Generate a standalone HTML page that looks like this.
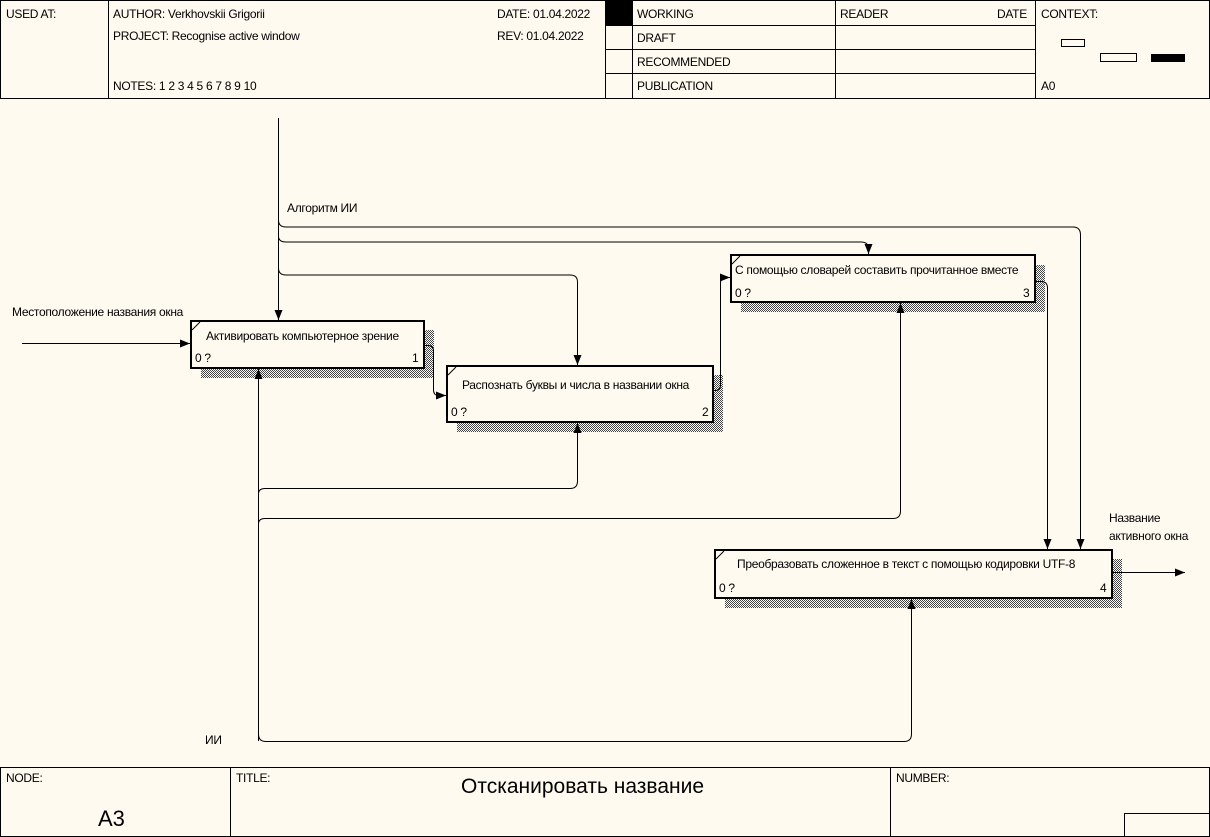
<!DOCTYPE html>
<html><head><meta charset="utf-8"><style>
html,body{margin:0;padding:0;background:#fffaf0;}
svg{display:block;font-family:"Liberation Sans","Noto Sans CJK SC",sans-serif;}
text{font-size:12px;fill:#000;letter-spacing:-0.3px;}
</style></head><body>
<svg width="1210" height="837" viewBox="0 0 1210 837" xmlns="http://www.w3.org/2000/svg">
<defs>
<pattern id="hp" width="2" height="2" patternUnits="userSpaceOnUse"><rect width="2" height="2" fill="#fffaf0"/><rect width="1" height="1" fill="#444"/><rect x="1" y="1" width="1" height="1" fill="#444"/></pattern>
<marker id="ar" markerWidth="10" markerHeight="10" refX="10" refY="5" orient="auto" markerUnits="userSpaceOnUse"><path d="M0,1 L10,5 L0,9 z" fill="#000"/></marker>
</defs>
<rect x="0" y="0" width="1210" height="837" fill="#fffaf0"/>
<g stroke="#000" stroke-width="1" fill="none">
<rect x="0.5" y="0.5" width="1209" height="98"/>
<line x1="108.5" y1="0" x2="108.5" y2="98"/>
<line x1="605.5" y1="0" x2="605.5" y2="98"/>
<line x1="632.5" y1="0" x2="632.5" y2="98"/>
<line x1="835.5" y1="0" x2="835.5" y2="98"/>
<line x1="1035.5" y1="0" x2="1035.5" y2="98"/>
<line x1="605" y1="25.5" x2="1035" y2="25.5"/>
<line x1="605" y1="49.5" x2="1035" y2="49.5"/>
<line x1="605" y1="73.5" x2="1035" y2="73.5"/>
</g>
<rect x="606" y="1" width="26" height="24" fill="#000"/>
<text x="6" y="18">USED AT:</text>
<text x="113" y="18">AUTHOR:  Verkhovskii Grigorii</text>
<text x="113" y="40">PROJECT:  Recognise active window</text>
<text x="113" y="90">NOTES:  1  2  3  4  5  6  7  8  9  10</text>
<text x="497" y="18">DATE:   01.04.2022</text>
<text x="497" y="40">REV:     01.04.2022</text>
<text x="637" y="18">WORKING</text>
<text x="637" y="42">DRAFT</text>
<text x="637" y="66">RECOMMENDED</text>
<text x="637" y="90">PUBLICATION</text>
<text x="840" y="18">READER</text>
<text x="997" y="18">DATE</text>
<text x="1041" y="18">CONTEXT:</text>
<text x="1041" y="90">A0</text>
<rect x="1061.5" y="39.5" width="23" height="7" fill="none" stroke="#000"/>
<rect x="1100.5" y="53.5" width="36" height="8" fill="none" stroke="#000"/>
<rect x="1151" y="54" width="34" height="8" fill="#000"/>
<g stroke="#000" stroke-width="1" fill="none">
<rect x="0.5" y="767.5" width="1209" height="69"/>
<line x1="230.5" y1="767" x2="230.5" y2="837"/>
<line x1="890.5" y1="767" x2="890.5" y2="837"/>
<rect x="1124.5" y="813.5" width="85" height="23"/>
</g>
<text x="6" y="782">NODE:</text>
<text x="236" y="782">TITLE:</text>
<text x="896" y="782">NUMBER:</text>
<text x="98" y="826" style="font-size:22px;letter-spacing:0">A3</text>
<text x="461" y="793" style="font-size:21px;letter-spacing:0">Отсканировать название</text>
<rect x="201" y="330" width="233" height="48" fill="url(#hp)"/>
<rect x="457" y="375" width="266" height="57" fill="url(#hp)"/>
<rect x="741" y="265" width="304" height="47" fill="url(#hp)"/>
<rect x="725" y="559" width="397" height="49" fill="url(#hp)"/>
<g stroke="#000" stroke-width="2" fill="#fffaf0">
<rect x="191" y="321" width="233" height="47"/>
<rect x="447" y="366" width="266" height="56"/>
<rect x="731" y="255" width="304" height="47"/>
<rect x="715" y="550" width="397" height="48"/>
</g>
<g stroke="#000" stroke-width="1">
<line x1="192" y1="330" x2="200" y2="322"/>
<line x1="448" y1="375" x2="456" y2="367"/>
<line x1="732" y1="264" x2="740" y2="256"/>
<line x1="716" y1="559" x2="724" y2="551"/>
</g>
<text x="206" y="340">Активировать компьютерное зрение</text>
<text x="195" y="362">0 ?</text><text x="412" y="362">1</text>
<text x="462" y="389">Распознать буквы и числа в названии окна</text>
<text x="451" y="416">0 ?</text><text x="702" y="416">2</text>
<text x="735" y="274">С помощью словарей составить прочитанное вместе</text>
<text x="735" y="297">0 ?</text><text x="1023" y="297">3</text>
<text x="737" y="568">Преобразовать сложенное в текст с помощью кодировки UTF-8</text>
<text x="719" y="592">0 ?</text><text x="1100" y="592">4</text>
<g stroke="#000" stroke-width="1" fill="none">
<line x1="278.5" y1="118" x2="278.5" y2="320" marker-end="url(#ar)"/>
<path d="M278.5,220 Q278.5,227 286,227 L1073,227 Q1080.5,227 1080.5,235 L1080.5,549" marker-end="url(#ar)"/>
<path d="M278.5,236 Q278.5,242 286,242 L861,242 Q868.5,242 868.5,249 L868.5,254" marker-end="url(#ar)"/>
<path d="M278.5,268 Q278.5,275 286,275 L570,275 Q577.5,275 577.5,282 L577.5,365" marker-end="url(#ar)"/>
<line x1="22" y1="343.5" x2="190" y2="343.5" marker-end="url(#ar)"/>
<path d="M424,345.5 L428,345.5 Q433.5,345.5 433.5,351 L433.5,390 Q433.5,395.5 439,395.5 L446,395.5" marker-end="url(#ar)"/>
<path d="M713,390.5 L715,390.5 Q720.5,390.5 720.5,385 L720.5,283 Q720.5,277.5 726,277.5 L730,277.5" marker-end="url(#ar)"/>
<path d="M1035,281.5 L1041,281.5 Q1047.5,281.5 1047.5,288 L1047.5,549" marker-end="url(#ar)"/>
<line x1="1112" y1="572.5" x2="1185" y2="572.5" marker-end="url(#ar)"/>
<path d="M258.5,741 L258.5,369" marker-end="url(#ar)"/>
<path d="M258.5,494 Q258.5,488.5 265,488.5 L570,488.5 Q577.5,488.5 577.5,481 L577.5,423" marker-end="url(#ar)"/>
<path d="M258.5,524 Q258.5,518.5 265,518.5 L893,518.5 Q900.5,518.5 900.5,511 L900.5,303" marker-end="url(#ar)"/>
<path d="M258.5,734 Q258.5,741.5 266,741.5 L904,741.5 Q911.5,741.5 911.5,734 L911.5,599" marker-end="url(#ar)"/>
</g>
<text x="287" y="212">Алгоритм ИИ</text>
<text x="12" y="316">Местоположение названия окна</text>
<text x="1109" y="522">Название</text>
<text x="1109" y="540">активного окна</text>
<text x="205" y="744">ИИ</text>
</svg>
</body></html>
